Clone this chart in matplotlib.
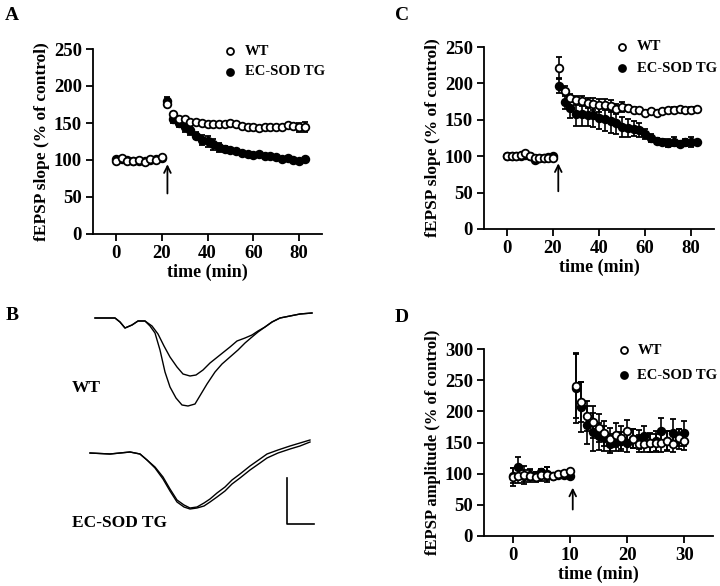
import numpy as np
import matplotlib
matplotlib.use("Agg")
import matplotlib.pyplot as plt

plt.rcParams['font.family'] = ['Liberation Serif', 'DejaVu Serif']
plt.rcParams['font.weight'] = 'bold'

# ---------------- Panel A data ----------------
a_t_base = [0, 2.5, 5, 7.5, 10, 12.5, 15, 17.5, 20]
a_wt_base = [98, 103, 99, 98, 100, 97, 101, 100, 104]
a_tg_base = [102, 101, 100, 99, 99, 99, 100, 101, 103]
a_t_post = [22.5, 25, 27.5, 30, 32.5, 35, 37.5, 40, 42.5, 45, 47.5, 50, 52.5,
            55, 57.5, 60, 62.5, 65, 67.5, 70, 72.5, 75, 77.5, 80, 82.5]
a_wt_post = [175, 162, 156, 155, 152, 151, 150, 148, 148, 149, 149, 150, 149,
             146, 145, 144, 143, 144, 145, 145, 145, 147, 146, 144, 145]
a_wt_err = [4, 3, 2, 2, 2, 2, 2, 2, 2, 2, 2, 2, 2, 2, 2, 2, 2, 2, 2, 2, 2, 2, 2, 6, 7]
a_tg_post = [180, 155, 150, 145, 140, 133, 127, 125, 121, 117, 115, 113, 112,
             110, 108, 107, 108, 106, 105, 104, 102, 103, 100, 99, 101]
a_tg_err = [5, 5, 6, 7, 6, 5, 7, 7, 7, 6, 4, 3, 3, 2, 2, 2, 2, 2, 2, 2, 2, 2, 2, 2, 2]

# ---------------- Panel C data ----------------
c_t_base = [0, 2, 4, 6, 8, 10, 12, 14, 16, 18, 20]
c_wt_base = [100, 100, 100, 101, 104, 100, 98, 97, 97, 98, 97]
c_tg_base = [100, 100, 100, 100, 101, 100, 95, 97, 97, 99, 100]
c_t_post = a_t_post
c_wt_post = [221, 190, 180, 177, 176, 173, 172, 170, 171, 169, 165, 168, 166,
             164, 163, 160, 162, 160, 162, 163, 164, 165, 163, 164, 165]
c_wt_err = [15, 7, 6, 6, 7, 7, 8, 9, 8, 8, 7, 7, 4, 3, 3, 3, 3, 3, 3, 3, 3, 3, 3, 3, 3]
c_tg_post = [197, 175, 166, 158, 158, 157, 156, 153, 151, 148, 146, 140, 139,
             138, 136, 130, 125, 121, 120, 118, 120, 117, 119, 120, 119]
c_tg_err = [10, 10, 14, 16, 16, 16, 16, 16, 16, 16, 16, 14, 12, 10, 9, 7, 6, 4, 4, 5, 6, 4, 5, 7, 3]

# ---------------- Panel D data ----------------
d_t_base = [0, 1, 2, 3, 4, 5, 6, 7, 8, 9, 10]
d_wt_base = [95, 97, 98, 97, 94, 98, 98, 97, 99, 101, 104]
d_wt_base_err = [14, 12, 14, 10, 8, 10, 12, 4, 3, 3, 3]
d_tg_base = [97, 110, 96, 98, 97, 102, 100, 97, 98, 98, 97]
d_tg_base_err = [12, 17, 10, 8, 6, 6, 10, 4, 3, 3, 3]
d_t_post = [11, 12, 13, 14, 15, 16, 17, 18, 19, 20, 21, 22, 23, 24, 25, 26, 27, 28, 29, 30]
d_wt_post = [241, 215, 192, 183, 173, 165, 155, 162, 158, 168, 156, 148, 148,
             149, 149, 150, 153, 148, 158, 153]
d_wt_err = [52, 32, 24, 25, 22, 20, 18, 20, 18, 18, 15, 14, 14, 15, 15, 16, 15, 14, 14, 15]
d_tg_post = [237, 207, 178, 167, 160, 157, 148, 151, 152, 150, 156, 155, 160,
             150, 153, 168, 152, 165, 155, 165]
d_tg_err = [55, 40, 30, 30, 22, 20, 15, 15, 15, 15, 15, 15, 16, 16, 16, 22, 16, 22, 16, 20]

# ---------------- Panel B traces (arbitrary units) ----------------
wt_pre_x = [95, 115, 120, 125, 132, 138, 145, 152, 158, 164, 170, 177, 183, 190, 196, 203, 210, 220, 230, 237, 245, 252, 258, 265, 272, 280, 290, 300, 312]
wt_pre_y = [318, 318, 322, 328, 325, 321, 321, 326, 334, 346, 357, 367, 374, 376, 375, 370, 363, 355, 347, 341, 338, 335, 331, 327, 322, 318, 316, 314, 313]
wt_post_x = [95, 115, 120, 125, 132, 138, 145, 150, 155, 160, 165, 170, 176, 182, 188, 195, 201, 207, 215, 222, 230, 238, 245, 252, 258, 265, 272, 280, 290, 300, 312]
wt_post_y = [318, 318, 322, 328, 325, 321, 321, 326, 333, 350, 372, 387, 398, 405, 406, 404, 394, 384, 372, 364, 357, 350, 343, 337, 332, 327, 322, 318, 316, 314, 313]
tg_pre_x = [90, 110, 130, 140, 147, 155, 163, 170, 177, 184, 190, 197, 204, 210, 217, 225, 232, 240, 250, 260, 267, 278, 290, 300, 310]
tg_pre_y = [453, 454, 452, 454, 460, 467, 477, 489, 500, 505, 508, 507, 503, 499, 493, 487, 480, 474, 466, 459, 454, 450, 446, 443, 440]
tg_post_x = [90, 110, 130, 140, 147, 155, 163, 170, 177, 184, 190, 197, 204, 210, 217, 225, 232, 240, 250, 260, 267, 278, 290, 300, 310]
tg_post_y = [453, 454, 452, 454, 460, 468, 479, 491, 502, 507, 509, 508, 506, 502, 497, 491, 484, 478, 470, 463, 458, 453, 449, 446, 442]
scale_x = [287, 287, 314]
scale_y = [478, 524, 524]

W, H = 720, 586
fig = plt.figure(figsize=(W / 100, H / 100), dpi=100)


def box(l, r, t, b):
    return [l / W, 1 - b / H, (r - l) / W, (b - t) / H]


tick_fs = 13.5
lab_fs = 12.5
leg_fs = 10.5


def style(ax):
    for s in ['top', 'right']:
        ax.spines[s].set_visible(False)
    for s in ['left', 'bottom']:
        ax.spines[s].set_linewidth(1.3)
    ax.tick_params(width=1.3, length=5, labelsize=tick_fs, direction='out', pad=3)
    for lbl in ax.get_xticklabels() + ax.get_yticklabels():
        lbl.set_fontweight('bold')


def plot_series(ax, t, y, err, filled, ms=5.5):
    fc = 'black' if filled else 'white'
    ax.errorbar(t, y, yerr=err, fmt='o', ms=ms, mfc=fc, mec='black', mew=1.3,
                ecolor='black', elinewidth=1.2, capsize=2.5, capthick=1.2, zorder=3 if filled else 4)


def legend(ax, x, y1, y2, dx):
    ax.plot([x], [y1], 'o', ms=5, mfc='white', mec='black', mew=1.3, clip_on=False)
    ax.plot([x], [y2], 'o', ms=5, mfc='black', mec='black', mew=1.3, clip_on=False)
    ax.text(x + dx, y1, 'WT', fontsize=leg_fs, fontweight='bold', va='center')
    ax.text(x + dx, y2, 'EC-SOD TG', fontsize=leg_fs, fontweight='bold', va='center')


# Panel A
axA = fig.add_axes(box(93, 322, 49, 234))
plot_series(axA, a_t_base, a_tg_base, None, True)
plot_series(axA, a_t_post, a_tg_post, a_tg_err, True)
plot_series(axA, a_t_base, a_wt_base, None, False)
plot_series(axA, a_t_post, a_wt_post, a_wt_err, False)
axA.set_xlim(-10, 90)
axA.set_ylim(0, 250)
axA.set_xticks([0, 20, 40, 60, 80])
axA.set_yticks([0, 50, 100, 150, 200, 250])
axA.set_xlabel('time (min)', fontsize=lab_fs + 0.5, fontweight='bold', labelpad=1)
axA.set_ylabel('fEPSP slope (% of control)', fontsize=lab_fs, fontweight='bold', labelpad=3)
axA.annotate('', xy=(22.5, 98), xytext=(22.5, 51),
             arrowprops=dict(arrowstyle='->', lw=1.3, color='black', mutation_scale=12))
legend(axA, 50, 247, 219, 6.5)
style(axA)

# Panel C
axC = fig.add_axes(box(484, 714, 47, 229))
plot_series(axC, c_t_base, c_tg_base, None, True)
plot_series(axC, c_t_post, c_tg_post, c_tg_err, True)
plot_series(axC, c_t_base, c_wt_base, None, False)
plot_series(axC, c_t_post, c_wt_post, c_wt_err, False)
axC.set_xlim(-10, 90)
axC.set_ylim(0, 250)
axC.set_xticks([0, 20, 40, 60, 80])
axC.set_yticks([0, 50, 100, 150, 200, 250])
axC.set_xlabel('time (min)', fontsize=lab_fs + 0.5, fontweight='bold', labelpad=1)
axC.set_ylabel('fEPSP slope (% of control)', fontsize=lab_fs, fontweight='bold', labelpad=3)
axC.annotate('', xy=(22.3, 94), xytext=(22.3, 48),
             arrowprops=dict(arrowstyle='->', lw=1.3, color='black', mutation_scale=12))
legend(axC, 50, 250, 221, 6.5)
style(axC)

# Panel D
axD = fig.add_axes(box(484, 713, 349, 536))
plot_series(axD, d_t_base, d_tg_base, d_tg_base_err, True)
plot_series(axD, d_t_post, d_tg_post, d_tg_err, True)
plot_series(axD, d_t_base, d_wt_base, d_wt_base_err, False)
plot_series(axD, d_t_post, d_wt_post, d_wt_err, False)
axD.set_xlim(-5, 35)
axD.set_ylim(0, 300)
axD.set_xticks([0, 10, 20, 30])
axD.set_yticks([0, 50, 100, 150, 200, 250, 300])
axD.set_xlabel('time (min)', fontsize=lab_fs + 0.5, fontweight='bold', labelpad=1)
axD.set_ylabel('fEPSP amplitude (% of control)', fontsize=lab_fs - 0.5, fontweight='bold', labelpad=3)
axD.annotate('', xy=(10.5, 82), xytext=(10.5, 38),
             arrowprops=dict(arrowstyle='->', lw=1.3, color='black', mutation_scale=12))
legend(axD, 19.4, 298, 258, 2.4)
style(axD)

# Panel B (traces)
axB = fig.add_axes(box(60, 330, 300, 540))
axB.plot(wt_pre_x, wt_pre_y, color='black', lw=1.0)
axB.plot(wt_post_x, wt_post_y, color='black', lw=1.0)
axB.plot(tg_pre_x, tg_pre_y, color='black', lw=1.0)
axB.plot(tg_post_x, tg_post_y, color='black', lw=1.0)
axB.plot(scale_x, scale_y, color='black', lw=1.2)
axB.text(72, 388, 'WT', fontsize=12.5, fontweight='bold', va='center')
axB.text(72, 523, 'EC-SOD TG', fontsize=12.5, fontweight='bold', va='center')
axB.set_xlim(60, 330)
axB.set_ylim(540, 300)
axB.axis('off')

# Panel letters
for lbl, x, y in [('A', 12, 15), ('C', 402, 15), ('B', 12, 316), ('D', 402, 317)]:
    fig.text(x / W, 1 - y / H, lbl, fontsize=14, fontweight='bold', ha='center', va='center')

fig.savefig('out.png', dpi=100)
